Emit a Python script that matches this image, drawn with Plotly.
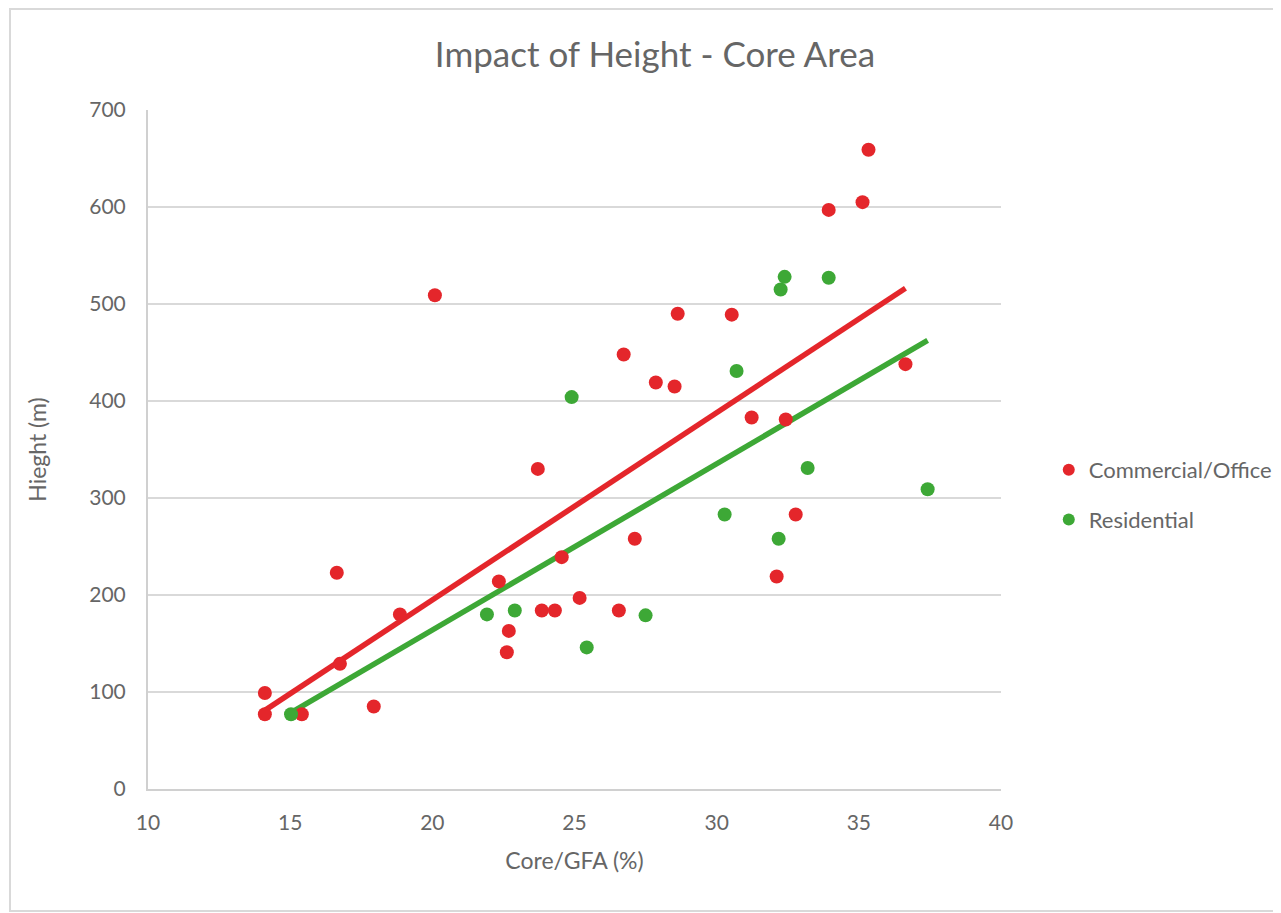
import numpy as np
import plotly.graph_objects as go

# Commercial/Office
com_x = [14.11, 14.11, 15.41, 16.64, 16.75, 17.94, 18.86, 20.09, 22.34, 22.69, 22.62,
         23.71, 23.85, 24.31, 24.55, 25.18, 26.56, 26.73, 27.12, 27.86, 28.52, 28.63,
         30.53, 31.23, 32.11, 32.43, 32.78, 33.94, 35.13, 35.34, 36.64]
com_y = [99, 77, 77, 223, 129, 85, 180, 509, 214, 163, 141,
         330, 184, 184, 239, 197, 184, 448, 258, 419, 415, 490,
         489, 383, 219, 381, 283, 597, 605, 659, 438]

# Residential
res_x = [15.03, 21.92, 22.90, 24.90, 25.43, 27.50, 30.28, 30.70, 32.18, 32.25, 32.39,
         33.20, 33.94, 37.42]
res_y = [77, 180, 184, 404, 146, 179, 283, 431, 258, 515, 528,
         331, 527, 309]

RED = "#E4262B"
GREEN = "#3DA836"
GREY = "#666666"
FONT = "Lato"

fig = go.Figure()

def trend(xs, ys):
    xs = np.array(xs, float); ys = np.array(ys, float)
    m, b = np.polyfit(xs, ys, 1)
    xr = np.array([xs.min(), xs.max()])
    return xr, m * xr + b

for xs, ys, c in [(com_x, com_y, RED), (res_x, res_y, GREEN)]:
    tx, ty = trend(xs, ys)
    fig.add_trace(go.Scatter(x=tx, y=ty, mode="lines", line=dict(color=c, width=5.5),
                             showlegend=False, hoverinfo="skip"))

fig.add_trace(go.Scatter(x=com_x, y=com_y, mode="markers", name="Commercial/Office",
                         legendgroup="c",
                         marker=dict(color=RED, size=14, line=dict(width=0))))
fig.add_trace(go.Scatter(x=res_x, y=res_y, mode="markers", name="Residential",
                         legendgroup="r",
                         marker=dict(color=GREEN, size=14, line=dict(width=0))))

W, H = 1273, 905
fig.update_layout(
    width=W, height=H,
    paper_bgcolor="white", plot_bgcolor="white",
    margin=dict(l=140, r=280, t=102, b=124, autoexpand=False),
    font=dict(family=FONT, color=GREY, size=20),
    title=dict(text="Impact of Height - Core Area", x=(655 - 8) / W, xanchor="center",
               y=1 - 47 / H, yanchor="middle", font=dict(size=35, color=GREY, family=FONT)),
    xaxis=dict(range=[10, 40], dtick=5, showgrid=False, zeroline=False, automargin=False,
               showline=True, linecolor="#D0D0D0", linewidth=2,
               ticks="", tickfont=dict(size=21, color=GREY), ticklabelstandoff=14,
               title=dict(text="Core/GFA (%)", font=dict(size=23, color=GREY), standoff=20)),
    yaxis=dict(range=[0, 700], dtick=100, showgrid=True, gridcolor="#D9D9D9", gridwidth=2,
               zeroline=False, showline=True, linecolor="#D0D0D0", linewidth=2, automargin=False,
               ticks="", tickfont=dict(size=21, color=GREY), ticklabelstandoff=16,
               title=dict(text="Hieght (m)", font=dict(size=23, color=GREY), standoff=36)),
    legend=dict(x=1.056, xanchor="left", y=0.433, yanchor="middle",
                font=dict(size=22, color=GREY), tracegroupgap=18, itemsizing="constant",
                bgcolor="rgba(0,0,0,0)"),
    shapes=[dict(type="rect", xref="paper", yref="paper",
                 x0=(10 - 148) / 853, x1=(1290 - 148) / 853,
                 y0=-(911 - 789) / 679, y1=1 + (110 - 9) / 679,
                 line=dict(color="#D9D9D9", width=2))],
)

fig.write_html("out.html")
